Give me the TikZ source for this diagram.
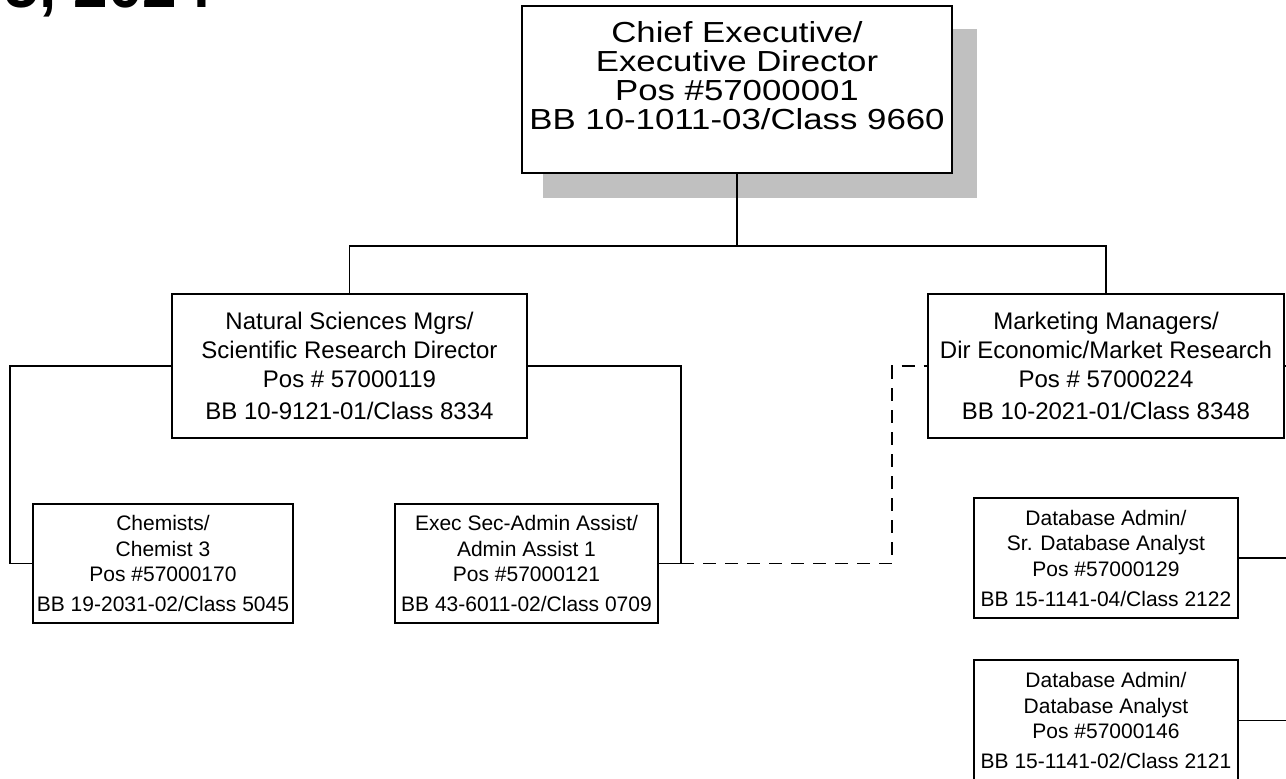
\documentclass[tikz,border=0pt]{standalone}
\usepackage{fontspec}
\setmainfont{Liberation Sans}
\newfontfamily\widesf[FakeStretch=1.2]{Liberation Sans}
\definecolor{shadowG}{RGB}{192,192,192}

\begin{document}
\begin{tikzpicture}[x=1pt,y=-1pt,
  posbox/.style={draw,line width=1.8pt,fill=white,inner sep=0pt,outer sep=0pt,align=center,anchor=north west},
  midfont/.style={font=\fontsize{24}{29}\selectfont},
  lowfont/.style={font=\fontsize{21}{25.5}\selectfont},
  link/.style={line width=1.6pt}]
\path[use as bounding box,fill=white] (0,0) rectangle (1286,779);
% date line, cut by the top edge
\node[font=\fontsize{62}{62}\selectfont\bfseries,anchor=base east,inner sep=0pt] (date) at (212,8) {5, 2024};
% top position with its shadow
\fill[shadowG] (543,29) rectangle (977,198);
\node[posbox,minimum width=430,minimum height=167,font=\widesf\fontsize{29}{29.3}\selectfont,text depth=28pt] (ceo) at (522,6)
  {Chief Executive/\\Executive Director\\Pos \#57000001\\BB 10-1011-03/Class 9660};
% second row
\node[posbox,midfont,minimum width=355,minimum height=144] (sci) at (172,294)
  {Natural Sciences Mgrs/\\Scientific Research Director\\Pos \# 57000119\\[3pt]BB 10-9121-01/Class 8334};
\node[posbox,midfont,minimum width=356,minimum height=144] (mkt) at (928,294)
  {Marketing Managers/\\Dir Economic/Market Research\\Pos \# 57000224\\[3pt]BB 10-2021-01/Class 8348};
% third row
\node[posbox,lowfont,minimum width=260,minimum height=119] (chem) at (33,504)
  {Chemists/\\Chemist 3\\Pos \#57000170\\[4.5pt]BB 19-2031-02/Class 5045};
\node[posbox,lowfont,minimum width=263,minimum height=119] (sec) at (395,504)
  {Exec Sec-Admin Assist/\\Admin Assist 1\\Pos \#57000121\\[4.5pt]BB 43-6011-02/Class 0709};
\node[posbox,lowfont,minimum width=264,minimum height=120] (dbs) at (974,498)
  {Database Admin/\\Sr. Database Analyst\\Pos \#57000129\\[4.5pt]BB 15-1141-04/Class 2122};
\node[posbox,lowfont,minimum width=264,minimum height=121] (dba) at (974,660)
  {Database Admin/\\Database Analyst\\Pos \#57000146\\[4.5pt]BB 15-1141-02/Class 2121};
% connectors
\coordinate (bus) at (737,246);
\coordinate (lturn) at (10,366);
\coordinate (rturn) at (681,366);
\coordinate (dturn) at (892,366);
\coordinate (mktR) at (1290,366);
\coordinate (dbsR) at (1290,558);
\coordinate (dbaR) at (1290,720.5);
\draw[link] (ceo.south) -- (bus);
\draw[link] (sci.north) |- (bus) -| (mkt.north);
\draw[link] (sci.west) -- (lturn) |- (chem.west);
\draw[link] (sci.east) -- (rturn) |- (sec.east);
\draw[link,dash pattern=on 13pt off 9pt] (rturn |- sec.east) -| (dturn) -- (mkt.west);
\draw[link] (mkt.east) -- (mktR);
\draw[link] (dbs.east) -- (dbsR);
\draw[link] (dba.east) -- (dbaR);
\end{tikzpicture}
\end{document}
